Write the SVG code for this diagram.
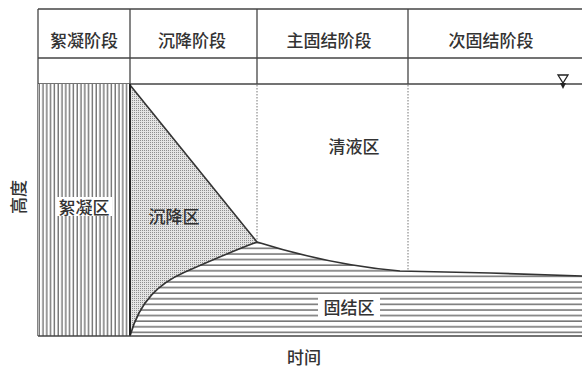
<svg xmlns="http://www.w3.org/2000/svg" width="582" height="367" viewBox="0 0 582 367">
<defs>
<pattern id="vs" patternUnits="userSpaceOnUse" width="3.8" height="10"><rect width="3.8" height="10" fill="#fff"/><line x1="1.2" y1="0" x2="1.2" y2="10" stroke="#666" stroke-width="1.3"/></pattern>
<pattern id="hs" patternUnits="userSpaceOnUse" width="10" height="5.6"><rect width="10" height="5.6" fill="#fff"/><line x1="0" y1="2" x2="10" y2="2" stroke="#777" stroke-width="1.6"/></pattern>
<pattern id="dt" patternUnits="userSpaceOnUse" width="2" height="2"><rect width="2" height="2" fill="#e4e4e4"/><rect width="1" height="1" fill="#8e8e8e"/></pattern>
</defs>
<style>
text{font-family:"Noto Sans CJK SC","Liberation Sans",sans-serif;fill:#333;text-anchor:middle;dominant-baseline:central;font-weight:500}
.h{font-size:17px}
.z{font-size:17px}
.g{stroke:#444;stroke-width:1.3;fill:none}
.d{stroke:#777;stroke-width:1;stroke-dasharray:1.5 1.5;fill:none}
.c{stroke:#333;stroke-width:1.6;fill:none}
</style>
<rect width="582" height="367" fill="#fff"/>
<g id="grid">
<line class="g" x1="38" y1="9" x2="582" y2="9"/>
<line class="g" x1="38" y1="58" x2="582" y2="58"/>
<line class="g" x1="38" y1="84" x2="582" y2="84"/>
<line class="g" x1="38" y1="9" x2="38" y2="336"/>
<line class="g" x1="130" y1="9" x2="130" y2="84"/>
<line class="g" x1="257" y1="9" x2="257" y2="84"/>
<line class="g" x1="408" y1="9" x2="408" y2="84"/>
<text class="h" x="84" y="39">絮凝阶段</text>
<text class="h" x="192" y="39">沉降阶段</text>
<text class="h" x="329" y="39">主固结阶段</text>
<text class="h" x="491" y="39">次固结阶段</text>
</g>
<g id="flocculation-zone">
<rect x="38" y="84" width="92" height="252" fill="url(#vs)"/>
<rect x="56" y="197" width="56" height="19" fill="#fff"/>
<text class="z" x="84" y="206">絮凝区</text>
</g>
<g id="settling-zone">
<path d="M130,85 L257,242 C235,250 210,261 185,272 C160,283 140,300 130,336 Z" fill="url(#dt)"/>
<text class="z" x="174" y="215">沉降区</text>
</g>
<g id="consolidation-zone">
<path d="M130,336 C140,300 160,283 185,272 C210,261 235,250 257,242 Q330,265 400,271 L490,273 L582,276 L582,336 Z" fill="url(#hs)"/>
<rect x="318" y="296" width="62" height="21" fill="#fff"/>
<text class="z" x="349" y="306">固结区</text>
</g>
<g id="clear-zone">
<text class="z" x="354" y="145">清液区</text>
</g>
<g id="connectors">
<line class="d" x1="257" y1="85" x2="257" y2="241"/>
<line class="d" x1="408" y1="85" x2="408" y2="270"/>
<path class="c" d="M130,85 L257,242"/>
<path class="c" d="M130,336 C140,300 160,283 185,272 C210,261 235,250 257,242 Q330,265 400,271 L490,273 L582,276"/>
<line x1="130" y1="84" x2="130" y2="336" stroke="#222" stroke-width="2"/>
<line class="g" x1="38" y1="336" x2="582" y2="336"/>
</g>
<g id="water-level">
<polygon points="558,75 568,75 563,83" fill="none" stroke="#222" stroke-width="1.3"/>
<polygon points="560,83 566,83 563,89" fill="#222"/>
</g>
<g id="axes">
<text class="z" x="17" y="197" transform="rotate(-90 17 197)">高度</text>
<text class="z" x="304" y="356">时间</text>
</g>
</svg>
